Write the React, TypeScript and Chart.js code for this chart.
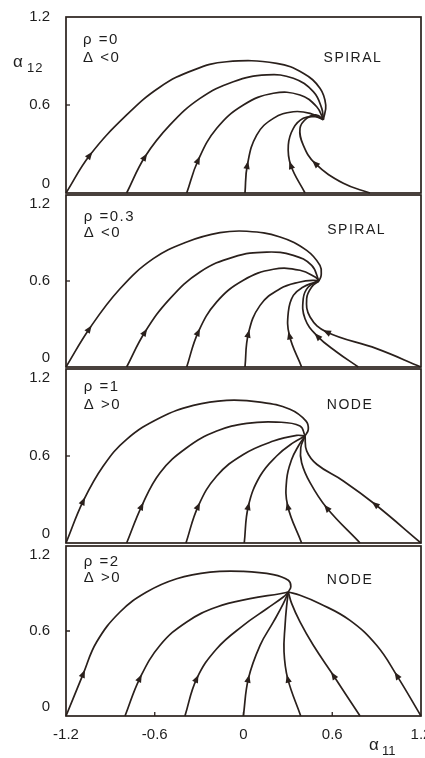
import React, { useEffect, useRef } from "react";
import { Chart, registerables } from "chart.js";

Chart.register(...registerables);

// ---------- data ----------
const xTicks = [-1.2, -0.6, 0, 0.6, 1.2];
const yTicks = [0, 0.6, 1.2];

const rhoLabels = ["\u03C1 =0", "\u03C1 =0.3", "\u03C1 =1", "\u03C1 =2"];
const deltaLabels = ["\u0394 <0", "\u0394 <0", "\u0394 >0", "\u0394 >0"];
const typeLabels = ["SPIRAL", "SPIRAL", "NODE", "NODE"];

// trajectories: [alpha11, alpha12] points, from start to the equilibrium
const rho0Curves: number[][][] = [
  [[-1.2, 0], [-1.038, 0.259], [-0.79, 0.532], [-0.564, 0.723], [-0.339, 0.838], [-0.114, 0.895], [0.224, 0.884], [0.404, 0.816], [0.517, 0.714], [0.556, 0.6], [0.54, 0.5]],
  [[-0.79, 0], [-0.666, 0.247], [-0.497, 0.464], [-0.294, 0.645], [-0.069, 0.759], [0.157, 0.805], [0.337, 0.782], [0.472, 0.691], [0.529, 0.577], [0.54, 0.5]],
  [[-0.384, 0], [-0.306, 0.225], [-0.181, 0.441], [-0.001, 0.6], [0.202, 0.68], [0.382, 0.668], [0.495, 0.588], [0.54, 0.5]],
  [[0.01, 0], [0.026, 0.191], [0.089, 0.395], [0.202, 0.509], [0.337, 0.554], [0.45, 0.543], [0.54, 0.5]],
  [[0.416, 0], [0.319, 0.191], [0.303, 0.327], [0.337, 0.441], [0.404, 0.509], [0.484, 0.52], [0.54, 0.5]],
  [[0.855, 0], [0.675, 0.066], [0.484, 0.202], [0.404, 0.327], [0.382, 0.441], [0.427, 0.509], [0.495, 0.532], [0.54, 0.5]],
];
const rho0Arrows = [1, 1, 1, 1, 1, 2];

const rho03Curves: number[][][] = [
  [[-1.2, 0], [-1.042, 0.267], [-0.835, 0.546], [-0.61, 0.756], [-0.384, 0.872], [-0.159, 0.937], [0.022, 0.947], [0.247, 0.907], [0.427, 0.814], [0.517, 0.709], [0.525, 0.64], [0.51, 0.6]],
  [[-0.79, 0], [-0.666, 0.244], [-0.497, 0.477], [-0.294, 0.663], [-0.069, 0.767], [0.157, 0.802], [0.337, 0.779], [0.461, 0.709], [0.51, 0.6]],
  [[-0.384, 0], [-0.306, 0.244], [-0.181, 0.454], [-0.001, 0.605], [0.202, 0.682], [0.382, 0.675], [0.484, 0.628], [0.51, 0.6]],
  [[0.01, 0], [0.033, 0.233], [0.112, 0.43], [0.247, 0.546], [0.382, 0.593], [0.472, 0.605], [0.51, 0.6]],
  [[0.393, 0], [0.31, 0.221], [0.303, 0.384], [0.337, 0.5], [0.404, 0.558], [0.472, 0.588], [0.51, 0.6]],
  [[0.776, 0], [0.63, 0.105], [0.499, 0.216], [0.416, 0.337], [0.404, 0.477], [0.438, 0.558], [0.51, 0.6]],
  [[1.2, 0], [0.9, 0.128], [0.562, 0.244], [0.45, 0.349], [0.427, 0.477], [0.461, 0.558], [0.51, 0.6]],
];
const rho03Arrows = [1, 1, 1, 1, 1, 2, 2];

const rho1Curves: number[][][] = [
  [[-1.2, 0], [-1.083, 0.29], [-0.948, 0.531], [-0.79, 0.715], [-0.564, 0.864], [-0.339, 0.949], [-0.114, 0.984], [0.112, 0.972], [0.314, 0.922], [0.423, 0.841], [0.438, 0.784], [0.416, 0.738]],
  [[-0.79, 0], [-0.688, 0.255], [-0.564, 0.485], [-0.384, 0.657], [-0.181, 0.772], [0.022, 0.825], [0.224, 0.834], [0.382, 0.807], [0.416, 0.738]],
  [[-0.389, 0], [-0.306, 0.255], [-0.181, 0.462], [-0.001, 0.611], [0.202, 0.703], [0.36, 0.742], [0.416, 0.738]],
  [[0.005, 0], [0.033, 0.255], [0.112, 0.462], [0.224, 0.6], [0.337, 0.692], [0.416, 0.738]],
  [[0.393, 0], [0.299, 0.255], [0.292, 0.439], [0.326, 0.577], [0.371, 0.669], [0.416, 0.738]],
  [[0.788, 0], [0.562, 0.243], [0.45, 0.416], [0.393, 0.554], [0.387, 0.657], [0.416, 0.738]],
  [[1.2, 0], [0.889, 0.267], [0.675, 0.428], [0.495, 0.543], [0.427, 0.635], [0.416, 0.738]],
];
const rho1Arrows = [1, 1, 1, 1, 1, 1, 1];

const rho2Curves: number[][][] = [
  [[-1.2, 0], [-1.083, 0.299], [-0.993, 0.522], [-0.835, 0.734], [-0.655, 0.875], [-0.452, 0.969], [-0.226, 1.016], [-0.001, 1.021], [0.202, 0.998], [0.303, 0.958], [0.32, 0.915], [0.303, 0.875]],
  [[-0.801, 0], [-0.7, 0.268], [-0.564, 0.499], [-0.384, 0.664], [-0.181, 0.769], [0.044, 0.828], [0.247, 0.863], [0.303, 0.875]],
  [[-0.396, 0], [-0.316, 0.264], [-0.181, 0.475], [-0.001, 0.64], [0.157, 0.757], [0.269, 0.84], [0.303, 0.875]],
  [[-0.001, 0], [0.033, 0.264], [0.112, 0.499], [0.202, 0.664], [0.269, 0.793], [0.303, 0.875]],
  [[0.387, 0], [0.299, 0.264], [0.274, 0.452], [0.281, 0.64], [0.292, 0.781], [0.303, 0.875]],
  [[0.788, 0], [0.607, 0.287], [0.472, 0.499], [0.382, 0.664], [0.326, 0.793], [0.303, 0.875]],
  [[1.2, 0], [1.036, 0.287], [0.9, 0.499], [0.72, 0.675], [0.517, 0.793], [0.382, 0.852], [0.303, 0.875]],
];
const rho2Arrows = [1, 1, 1, 1, 1, 1, 1];

const panelCurves = [rho0Curves, rho03Curves, rho1Curves, rho2Curves];
const panelArrows = [rho0Arrows, rho03Arrows, rho1Arrows, rho2Arrows];

// ---------- layout / style (not data) ----------
const INK = "#2a201c";
const TEXT = "#1d1d1d";
const FONT_FAMILY = '"Liberation Sans", Arial, Helvetica, sans-serif';
const PAD = 26;
const Y_AXIS_W = 66;
const X_AXIS_H = 24;
const CANVAS_W = 441;
const panelBoxes = [
  { top: 17, bottom: 193 },
  { top: 195, bottom: 367 },
  { top: 369, bottom: 543 },
  { top: 546, bottom: 716 },
];
const textPos = [
  { x: -1.085, rhoY: 1.043, deltaY: 0.92, labelX: 0.74, labelY: 0.92 },
  { x: -1.08, rhoY: 1.047, deltaY: 0.935, labelX: 0.765, labelY: 0.956 },
  { x: -1.08, rhoY: 1.076, deltaY: 0.952, labelX: 0.72, labelY: 0.952 },
  { x: -1.08, rhoY: 1.087, deltaY: 0.974, labelX: 0.72, labelY: 0.96 },
];

function fmt(v: number): string {
  return v === 0 ? "0" : v.toFixed(1);
}

function setSpacing(ctx: any, s: string) {
  try {
    ctx.letterSpacing = s;
  } catch (e) {}
}

function Panel({ index }: { index: number }) {
  const ref = useRef<HTMLCanvasElement | null>(null);
  const box = panelBoxes[index];
  const isBottom = index === panelBoxes.length - 1;
  const isTop = index === 0;
  const canvasTop = box.top - PAD;
  const canvasH = box.bottom - box.top + 2 * PAD + (isBottom ? X_AXIS_H : 0);

  useEffect(() => {
    if (!ref.current) return;
    const curves = panelCurves[index];
    const arrows = panelArrows[index];
    const tp = textPos[index];

    const decor = {
      id: "decor" + index,
      afterDatasetsDraw(chart: any) {
        const ctx = chart.ctx;
        ctx.save();
        ctx.fillStyle = INK;
        chart.data.datasets.forEach((_: any, di: number) => {
          const meta = chart.getDatasetMeta(di);
          const k = arrows[di];
          const p = meta.data[k];
          if (!p) return;
          let ang: number;
          if (p.cp1x !== undefined && p.cp2x !== undefined && (p.cp2x !== p.cp1x || p.cp2y !== p.cp1y)) {
            ang = Math.atan2(p.cp2y - p.cp1y, p.cp2x - p.cp1x);
          } else {
            const a = meta.data[k - 1] || p;
            const b = meta.data[k + 1] || p;
            ang = Math.atan2(b.y - a.y, b.x - a.x);
          }
          const L = 8;
          const W = 3.2;
          const tipX = p.x + Math.cos(ang) * L * 0.5;
          const tipY = p.y + Math.sin(ang) * L * 0.5;
          const baseX = p.x - Math.cos(ang) * L * 0.5;
          const baseY = p.y - Math.sin(ang) * L * 0.5;
          const nx = -Math.sin(ang);
          const ny = Math.cos(ang);
          ctx.beginPath();
          ctx.moveTo(tipX, tipY);
          ctx.lineTo(baseX + nx * W, baseY + ny * W);
          ctx.lineTo(baseX - nx * W, baseY - ny * W);
          ctx.closePath();
          ctx.fill();
        });
        ctx.restore();
      },
      afterDraw(chart: any) {
        const ctx = chart.ctx;
        const { left, right, top, bottom } = chart.chartArea;
        const xs = chart.scales.x;
        const ys = chart.scales.y;
        ctx.save();
        // frame
        ctx.strokeStyle = INK;
        ctx.lineWidth = 1.7;
        ctx.strokeRect(left, top, right - left, bottom - top);
        // inward ticks
        ctx.lineWidth = 1.3;
        ctx.beginPath();
        yTicks.forEach((v) => {
          if (v === yTicks[0] || v === yTicks[yTicks.length - 1]) return;
          const py = ys.getPixelForValue(v);
          ctx.moveTo(left, py);
          ctx.lineTo(left + 4, py);
        });
        if (isBottom) {
          xTicks.forEach((v) => {
            if (v === xTicks[0] || v === xTicks[xTicks.length - 1]) return;
            const px = xs.getPixelForValue(v);
            ctx.moveTo(px, bottom);
            ctx.lineTo(px, bottom - 4);
          });
        }
        ctx.stroke();

        // annotations
        ctx.fillStyle = TEXT;
        ctx.textBaseline = "middle";
        ctx.font = "15px " + FONT_FAMILY;
        ctx.textAlign = "left";
        setSpacing(ctx, "1.5px");
        const tx = xs.getPixelForValue(tp.x);
        ctx.fillText(rhoLabels[index], tx, ys.getPixelForValue(tp.rhoY));
        ctx.fillText(deltaLabels[index], tx, ys.getPixelForValue(tp.deltaY));
        ctx.font = "14px " + FONT_FAMILY;
        ctx.textAlign = "center";
        ctx.fillText(typeLabels[index], xs.getPixelForValue(tp.labelX), ys.getPixelForValue(tp.labelY));
        setSpacing(ctx, "0px");

        // axis symbols
        ctx.textAlign = "left";
        if (isTop) {
          const ay = top + 47;
          ctx.font = "17px " + FONT_FAMILY;
          ctx.fillText("\u03B1", 13, ay - 2);
          ctx.font = "13px " + FONT_FAMILY;
          setSpacing(ctx, "1px");
          ctx.fillText("12", 27, ay + 4);
          setSpacing(ctx, "0px");
        }
        if (isBottom) {
          const ay = bottom + 31;
          ctx.font = "17px " + FONT_FAMILY;
          ctx.fillText("\u03B1", 369, ay - 2);
          ctx.font = "13px " + FONT_FAMILY;
          ctx.fillText("11", 382, ay + 4);
        }
        ctx.restore();
      },
    };

    const tickFont = { family: FONT_FAMILY, size: 15 };
    const chart = new Chart(ref.current, {
      type: "scatter",
      data: {
        datasets: curves.map((c) => ({
          data: c.map(([x, y]) => ({ x, y })),
          showLine: true,
          borderColor: INK,
          borderWidth: 1.7,
          pointRadius: 0,
          pointHoverRadius: 0,
          tension: 0.42,
          fill: false,
          clip: 6,
        })),
      },
      options: {
        animation: false,
        responsive: false,
        maintainAspectRatio: false,
        events: [],
        elements: { line: { capBezierPoints: false } },
        layout: { padding: { top: PAD, bottom: PAD, left: 0, right: 20 } },
        plugins: { legend: { display: false }, tooltip: { enabled: false }, title: { display: false } },
        scales: {
          x: {
            type: "linear",
            min: -1.2,
            max: 1.2,
            display: isBottom,
            grid: { display: false },
            border: { display: false },
            afterBuildTicks: (s: any) => {
              s.ticks = xTicks.map((v) => ({ value: v }));
            },
            afterFit: (s: any) => {
              s.height = isBottom ? X_AXIS_H : 0;
            },
            ticks: {
              autoSkip: false,
              maxRotation: 0,
              padding: 2,
              color: TEXT,
              font: tickFont,
              callback: (v: any) => fmt(Number(v)),
            },
          },
          y: {
            type: "linear",
            min: 0,
            max: 1.2,
            grid: { display: false },
            border: { display: false },
            afterBuildTicks: (s: any) => {
              s.ticks = yTicks.map((v) => ({ value: v }));
            },
            afterFit: (s: any) => {
              s.width = Y_AXIS_W;
            },
            ticks: {
              autoSkip: false,
              padding: 8,
              color: TEXT,
              font: tickFont,
              callback: (v: any) => {
                const n = Number(v);
                const t = fmt(n);
                if (n === yTicks[0]) return [t, ""];
                if (n === yTicks[yTicks.length - 1] && !isTop) return ["", t];
                return t;
              },
            },
          },
        },
      },
      plugins: [decor],
    } as any);
    return () => chart.destroy();
  }, [index]);

  return (
    <canvas
      ref={ref}
      width={CANVAS_W}
      height={canvasH}
      style={{ position: "absolute", left: 0, top: canvasTop, width: CANVAS_W, height: canvasH }}
    />
  );
}

export default function App() {
  return (
    <div
      style={{
        position: "absolute",
        left: 0,
        top: 0,
        width: 425,
        height: 758,
        overflow: "hidden",
        background: "#ffffff",
      }}
    >
      {panelBoxes.map((_, i) => (
        <Panel key={i} index={i} />
      ))}
    </div>
  );
}
